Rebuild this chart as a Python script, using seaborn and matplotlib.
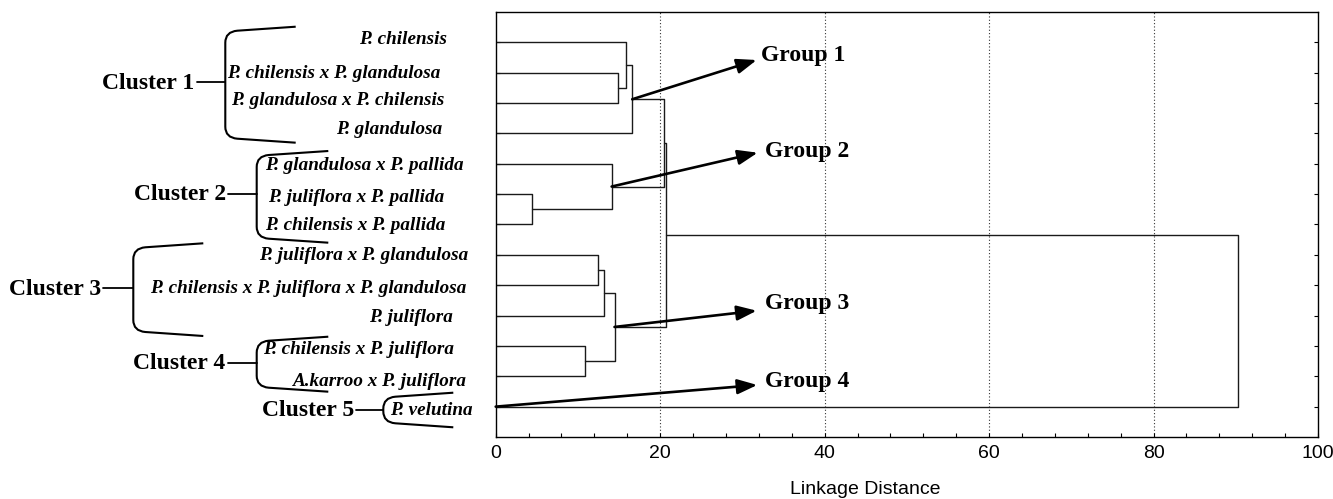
import numpy as np
import pandas as pd
import matplotlib
matplotlib.use('Agg')
import matplotlib.pyplot as plt
from matplotlib.path import Path
from matplotlib.patches import PathPatch
import seaborn as sns

# ---------------------------------------------------------------------------
# Data (leaves listed top to bottom, merges like a scipy linkage table)
# ---------------------------------------------------------------------------
LEAF_LABELS = [
    'P. chilensis',
    'P. chilensis x P. glandulosa',
    'P. glandulosa x P. chilensis',
    'P. glandulosa',
    'P. glandulosa x P. pallida',
    'P. juliflora x P. pallida',
    'P. chilensis x P. pallida',
    'P. juliflora x P. glandulosa',
    'P. chilensis x P. juliflora x P. glandulosa',
    'P. juliflora',
    'P. chilensis x P. juliflora',
    'A.karroo x P. juliflora',
    'P. velutina',
]
# node ids: 0..12 leaves, 13.. merged clusters in order
MERGE_A = [1, 0, 14, 5, 4, 15, 7, 19, 10, 20, 18, 23]
MERGE_B = [2, 13, 3, 6, 16, 17, 8, 9, 11, 21, 22, 12]
MERGE_HEIGHT = [14.9, 15.9, 16.6, 4.45, 14.1, 20.5, 12.5, 13.2, 10.9, 14.45, 20.7, 90.3]

XTICKS = [0, 20, 40, 60, 80, 100]
CLUSTER_LABELS = ['Cluster 1', 'Cluster 2', 'Cluster 3', 'Cluster 4', 'Cluster 5']
GROUP_LABELS = ['Group 1', 'Group 2', 'Group 3', 'Group 4']
GROUP_NODE = [15, 17, 22, 12]

# ---------------------------------------------------------------------------
# Layout (figure pixels, y from top)
# ---------------------------------------------------------------------------
W, H = 1333, 499
AX_L, AX_R, AX_T, AX_B = 495.7, 1318.0, 12.0, 437.0

LEAF_TEXT_X = [446.7, 440.7, 444.3, 442.7, 463.3, 444.0, 445.7,
               468.3, 466.7, 452.7, 454.0, 466.7, 472.7]
LEAF_TEXT_Y = [39.3, 73.3, 100.7, 130.0, 165.7, 198.0, 226.0,
               256.0, 288.3, 317.3, 350.0, 381.0, 410.5]

# x of vertical, top end y, bottom end y, x of the ends, stub start x, stub y
BRACKETS = [
    (225.3, 26.7, 142.7, 295.7, 196.7, 82.3),
    (256.7, 151.0, 242.7, 328.3, 227.7, 194.0),
    (133.3, 243.3, 336.0, 203.3, 103.3, 288.3),
    (256.7, 336.7, 391.7, 328.3, 227.7, 362.7),
    (383.3, 392.7, 427.3, 453.3, 356.0, 410.0),
]
GROUP_TEXT = [(761, 55.0), (765, 151.7), (765, 303.3), (765, 381.7)]
ARROW_TIP_PX = [(756.7, 60.0), (757.7, 152.7), (756.7, 310.7), (757.3, 385.0)]


def main():
    sns.set_style('ticks')
    plt.rcParams['font.family'] = ['Liberation Sans', 'DejaVu Sans']
    plt.rcParams['text.color'] = 'black'
    plt.rcParams['axes.labelcolor'] = 'black'
    plt.rcParams['xtick.color'] = 'black'
    plt.rcParams['ytick.color'] = 'black'

    n = len(LEAF_LABELS)
    node_y = {i: i + 1 for i in range(n)}
    node_h = {i: 0.0 for i in range(n)}
    rows = []
    for k, (a, b, h) in enumerate(zip(MERGE_A, MERGE_B, MERGE_HEIGHT)):
        ya, yb = node_y[a], node_y[b]
        for x, y in [(node_h[a], ya), (h, ya), (h, yb), (node_h[b], yb)]:
            rows.append({'x': x, 'y': y, 'seg': k})
        node_y[n + k] = (ya + yb) / 2
        node_h[n + k] = h
    seg_df = pd.DataFrame(rows)

    fig = plt.figure(figsize=(W / 100, H / 100), dpi=100)
    ax = fig.add_axes([AX_L / W, 1 - AX_B / H, (AX_R - AX_L) / W, (AX_B - AX_T) / H])

    sns.lineplot(data=seg_df, x='x', y='y', units='seg', estimator=None,
                 sort=False, color='#1a1a1a', lw=1.0, ax=ax, legend=False)

    ax.set_xlim(0, 100)
    ax.set_ylim(n + 1, 0)
    for g in XTICKS[1:-1]:
        ax.axvline(g, color='#333333', lw=0.8, ls=(0, (1, 2)), zorder=0)

    ax.set_xticks(XTICKS)
    ax.set_xticks(np.arange(0, 101, 4), minor=True)
    ax.set_yticks(range(1, n + 1))
    ax.set_yticklabels([])
    ax.tick_params(axis='x', which='both', direction='in', length=3,
                   width=0.8, top=False, labelsize=14, pad=6)
    ax.tick_params(axis='y', which='both', direction='in', length=3,
                   width=0.8, left=True, right=True)
    for s in ax.spines.values():
        s.set_visible(True)
        s.set_linewidth(1.0)
        s.set_color('black')
    ax.set_ylabel('')
    ax.set_xlabel('Linkage Distance', fontsize=14)
    ax.xaxis.set_label_coords((865 - AX_L) / (AX_R - AX_L),
                              -(490 - AX_B) / (AX_B - AX_T))
    ax.xaxis.label.set_va('center')

    # pixel -> data helpers for the arrow tips
    sx = 100 / (AX_R - AX_L)
    sy = (n + 1) / (AX_B - AX_T)
    for node, (tx, ty) in zip(GROUP_NODE, ARROW_TIP_PX):
        start = (node_h[node], node_y[node])
        tip = ((tx - AX_L) * sx, (ty - AX_T) * sy)
        ax.annotate('', xy=tip, xytext=start, annotation_clip=False,
                    arrowprops=dict(arrowstyle='-|>,head_length=1.2,head_width=0.45',
                                    mutation_scale=10, lw=1.9, color='black',
                                    shrinkA=0, shrinkB=0))

    # overlay in figure pixels for labels and brackets
    ov = fig.add_axes([0, 0, 1, 1])
    ov.set_xlim(0, W)
    ov.set_ylim(H, 0)
    ov.axis('off')

    serif = ['Liberation Serif', 'DejaVu Serif']
    for lab, x, y in zip(LEAF_LABELS, LEAF_TEXT_X, LEAF_TEXT_Y):
        ov.text(x, y, lab, ha='right', va='center', fontsize=13.8,
                family=serif, weight='bold', style='italic', color='black')

    r = 12
    for lab, (x, yt, yb, xe, sx0, sy0) in zip(CLUSTER_LABELS, BRACKETS):
        verts = [(xe, yt), (x + r, yt + 4), (x, yt + 5), (x, yt + 4 + r),
                 (x, yb - 4 - r), (x, yb - 5), (x + r, yb - 4), (xe, yb)]
        codes = [Path.MOVETO, Path.LINETO, Path.CURVE3, Path.CURVE3,
                 Path.LINETO, Path.CURVE3, Path.CURVE3, Path.LINETO]
        ov.add_patch(PathPatch(Path(verts, codes), fill=False, lw=1.5,
                               edgecolor='black', capstyle='butt'))
        ov.plot([sx0, x], [sy0, sy0], color='black', lw=1.3)
        ov.text(sx0 - 2, sy0 + 1, lab, ha='right', va='center', fontsize=17,
                family=serif, weight='bold', color='black')

    for lab, (x, y) in zip(GROUP_LABELS, GROUP_TEXT):
        ov.text(x, y, lab, ha='left', va='center', fontsize=17,
                family=serif, weight='bold', color='black')

    fig.savefig('out.png', dpi=100)
    plt.close(fig)


if __name__ == '__main__':
    main()
